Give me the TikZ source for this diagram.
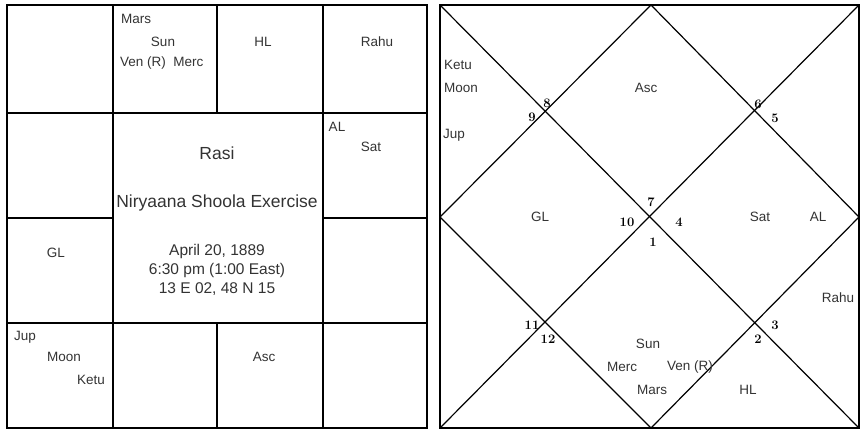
\documentclass[tikz,border=0pt]{standalone}
\usepackage{fontspec}
\setmainfont{Liberation Sans}
\newfontfamily\numfont{Latin Modern Roman}
\usetikzlibrary{positioning}

\begin{document}
\begin{tikzpicture}[
    x=1pt, y=-1pt,
    frame/.style={draw=black, line width=2.4pt},
    cell/.style={draw=black, line width=1.2pt},
    lbl/.style={inner sep=0pt, text=black!80, font=\fontsize{13.5}{15}\selectfont},
    big/.style={inner sep=0pt, text=black!80, font=\fontsize{17.5}{20}\selectfont},
    info/.style={inner sep=0pt, text=black!80, align=center, font=\fontsize{15.5}{19}\selectfont},
    num/.style={inner sep=0pt, font=\numfont\bfseries\fontsize{13}{14}\selectfont}
]
\useasboundingbox (0,0) rectangle (862,433);
% south indian chart
\draw[cell] (7,113) -- (427,113);
\draw[cell] (7,323) -- (427,323);
\draw[cell] (113,5) -- (113,428);
\draw[cell] (323,5) -- (323,428);
\draw[cell] (217,5) -- (217,113);
\draw[cell] (217,323) -- (217,428);
\draw[cell] (7,218) -- (113,218);
\draw[cell] (323,218) -- (427,218);
\draw[frame] (7,5) rectangle (427,428);
\node[lbl, anchor=west] (rMars) at (121,19) {Mars};
\node[lbl] (rSun) at (163,42) {Sun};
\node[lbl, anchor=west] (rVen) at (120,63) {Ven (R)\ \ Merc};
\node[lbl] (rHL) at (263,42) {HL};
\node[lbl] (rRahu) at (377,42) {Rahu};
\node[lbl] (rAL) at (337,127) {AL};
\node[lbl] (rSat) at (371,147) {Sat};
\node[big] (rTitle) at (217,153) {Rasi};
\node[big] (rName) at (217,203) {Niryaana Shoola Exercise};
\node[info] (rData) at (217,270) {April 20, 1889\\6:30 pm (1:00 East)\\13 E 02, 48 N 15};
\node[lbl] (rGL) at (56,253) {GL};
\node[lbl, anchor=west] (rJup) at (14,337) {Jup};
\node[lbl] (rMoon) at (64,357) {Moon};
\node[lbl] (rKetu) at (91,380) {Ketu};
\node[lbl] (rAsc) at (264,357) {Asc};
% north indian chart
\draw[cell] (440,5) -- (859,428);
\draw[cell] (859,5) -- (440,428);
\draw[cell] (651,5) -- (859,217) -- (651,428) -- (440,217) -- cycle;
\draw[frame] (440,5) rectangle (859,428);
\node[lbl, anchor=west] (nKetu) at (444,65) {Ketu};
\node[lbl, anchor=west] (nMoon) at (444,88) {Moon};
\node[lbl, anchor=west] (nJup) at (443,135) {Jup};
\node[lbl] (nAsc) at (646,88) {Asc};
\node[num] (h9) at (532,117) {9};
\node[num] (h8) at (547,103) {8};
\node[num] (h6) at (758,104) {6};
\node[num] (h5) at (775,118) {5};
\node[num] (h7) at (651,202) {7};
\node[num] (h10) at (627,222) {10};
\node[num] (h4) at (679,222) {4};
\node[num] (h1) at (653,242) {1};
\node[lbl] (nGL) at (540,217) {GL};
\node[lbl] (nSat) at (760,217) {Sat};
\node[lbl] (nAL) at (818,217) {AL};
\node[lbl] (nRahu) at (838,298) {Rahu};
\node[num] (h11) at (532,325) {11};
\node[num] (h12) at (548,339) {12};
\node[num] (h3) at (775,325) {3};
\node[num] (h2) at (758,339) {2};
\node[lbl] (nSun) at (648,344) {Sun};
\node[lbl] (nMerc) at (622,367) {Merc};
\node[lbl] (nVen) at (690,367) {Ven (R)};
\node[lbl] (nMars) at (652,390) {Mars};
\node[lbl] (nHL) at (748,390) {HL};
\end{tikzpicture}
\end{document}
